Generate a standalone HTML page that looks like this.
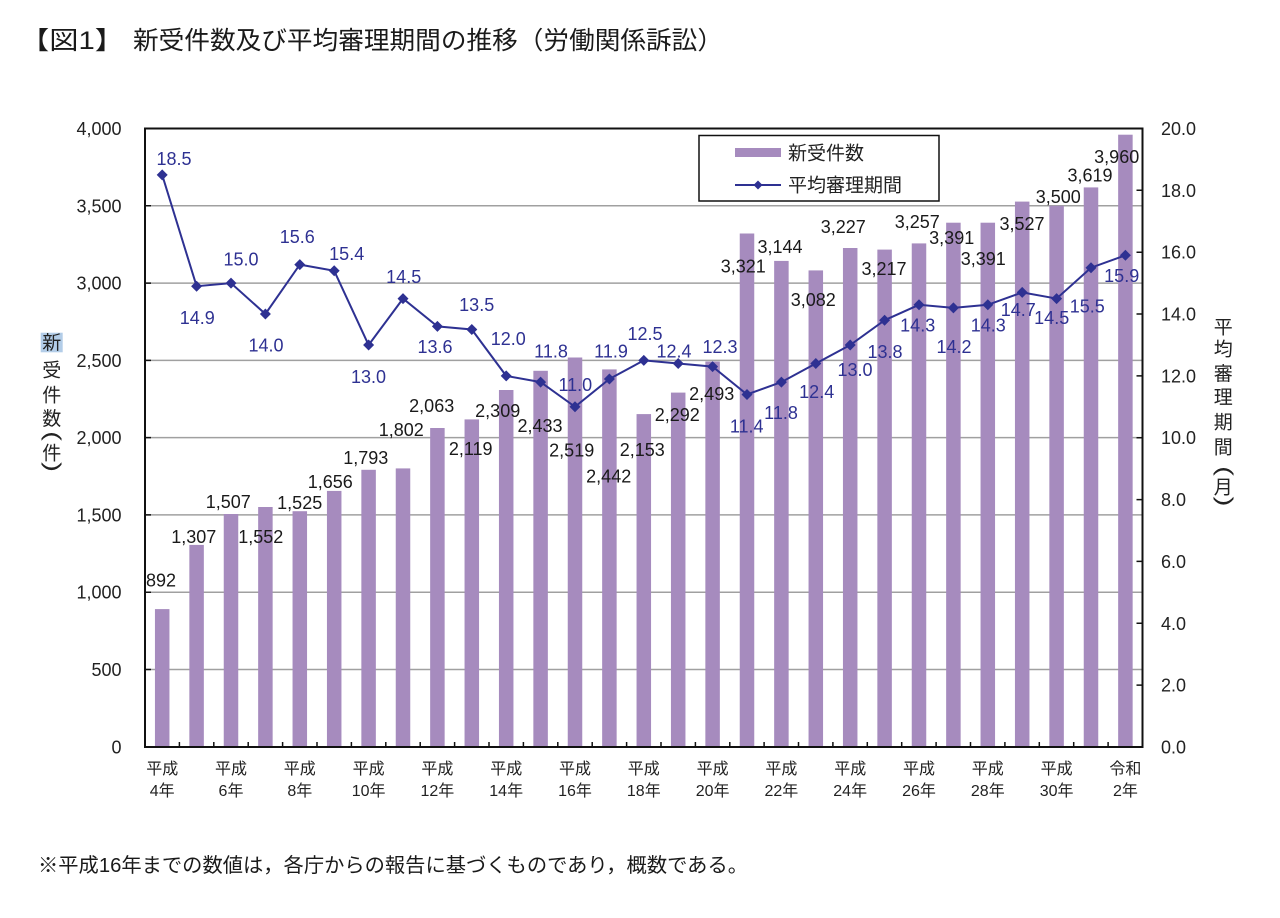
<!DOCTYPE html>
<html><head><meta charset="utf-8"><style>
html,body{margin:0;padding:0;background:#fff;}
svg{display:block;}
text{font-family:"Liberation Sans","Noto Sans CJK JP",sans-serif;}
.ax{font-size:18px;fill:#222;}
.bl{font-size:18px;fill:#1a1a1a;text-anchor:middle;}
.ll{font-size:18px;fill:#2e3192;text-anchor:middle;}
.xl{font-size:16px;fill:#222;text-anchor:middle;}
.vt{font-size:19px;fill:#222;text-anchor:middle;}
.vp{font-size:21px;fill:#222;text-anchor:middle;font-family:"Liberation Sans",sans-serif;}
</style></head><body>
<svg width="1280" height="918" viewBox="0 0 1280 918" xmlns="http://www.w3.org/2000/svg">
<rect width="1280" height="918" fill="#fff"/>
<!-- title -->
<text x="20" y="49" font-size="25" fill="#1a1a1a" textLength="104" lengthAdjust="spacingAndGlyphs">【図1】</text>
<text x="133" y="49" font-size="25" fill="#1a1a1a" textLength="590" lengthAdjust="spacingAndGlyphs">新受件数及び平均審理期間の推移（労働関係訴訟）</text>

<!-- gridlines -->
<g stroke="#a0a0a0" stroke-width="1.5">
<line x1="145" y1="205.8" x2="1142.5" y2="205.8"/>
<line x1="145" y1="283.1" x2="1142.5" y2="283.1"/>
<line x1="145" y1="360.4" x2="1142.5" y2="360.4"/>
<line x1="145" y1="437.6" x2="1142.5" y2="437.6"/>
<line x1="145" y1="514.9" x2="1142.5" y2="514.9"/>
<line x1="145" y1="592.2" x2="1142.5" y2="592.2"/>
<line x1="145" y1="669.5" x2="1142.5" y2="669.5"/>
</g>

<!-- bars -->
<g fill="#a68bbe">
<rect x="154.95" y="609.1" width="14.5" height="137.9"/>
<rect x="189.35" y="544.9" width="14.5" height="202.1"/>
<rect x="223.75" y="514.0" width="14.5" height="233.0"/>
<rect x="258.15" y="507.0" width="14.5" height="240.0"/>
<rect x="292.55" y="511.2" width="14.5" height="235.8"/>
<rect x="326.95" y="490.9" width="14.5" height="256.1"/>
<rect x="361.35" y="469.8" width="14.5" height="277.2"/>
<rect x="395.75" y="468.4" width="14.5" height="278.6"/>
<rect x="430.15" y="428.0" width="14.5" height="319.0"/>
<rect x="464.55" y="419.4" width="14.5" height="327.6"/>
<rect x="498.95" y="390.0" width="14.5" height="357.0"/>
<rect x="533.35" y="370.8" width="14.5" height="376.2"/>
<rect x="567.75" y="357.5" width="14.5" height="389.5"/>
<rect x="602.15" y="369.4" width="14.5" height="377.6"/>
<rect x="636.55" y="414.1" width="14.5" height="332.9"/>
<rect x="670.95" y="392.6" width="14.5" height="354.4"/>
<rect x="705.35" y="361.5" width="14.5" height="385.5"/>
<rect x="739.75" y="233.5" width="14.5" height="513.5"/>
<rect x="774.15" y="260.9" width="14.5" height="486.1"/>
<rect x="808.55" y="270.4" width="14.5" height="476.6"/>
<rect x="842.95" y="248.0" width="14.5" height="499.0"/>
<rect x="877.35" y="249.6" width="14.5" height="497.4"/>
<rect x="911.75" y="243.4" width="14.5" height="503.6"/>
<rect x="946.15" y="222.7" width="14.5" height="524.3"/>
<rect x="980.55" y="222.7" width="14.5" height="524.3"/>
<rect x="1014.95" y="201.6" width="14.5" height="545.4"/>
<rect x="1049.35" y="205.8" width="14.5" height="541.2"/>
<rect x="1083.75" y="187.4" width="14.5" height="559.6"/>
<rect x="1118.15" y="134.7" width="14.5" height="612.3"/>
</g>

<!-- frame -->
<rect x="145" y="128.5" width="997.5" height="618.5" fill="none" stroke="#111" stroke-width="2"/>

<!-- ticks -->
<g stroke="#111" stroke-width="1.5">
<path d="M145 205.8h6M145 283.1h6M145 360.4h6M145 437.6h6M145 514.9h6M145 592.2h6M145 669.5h6"/>
<path d="M1142.5 190.3h-6M1142.5 252.2h-6M1142.5 314h-6M1142.5 375.9h-6M1142.5 437.7h-6M1142.5 499.6h-6M1142.5 561.4h-6M1142.5 623.3h-6M1142.5 685.1h-6"/>
<path d="M179.4 747v-5M213.8 747v-5M248.2 747v-5M282.6 747v-5M317 747v-5M351.4 747v-5M385.8 747v-5M420.2 747v-5M454.6 747v-5M489 747v-5M523.4 747v-5M557.8 747v-5M592.2 747v-5M626.6 747v-5M661 747v-5M695.4 747v-5M729.8 747v-5M764.1 747v-5M798.5 747v-5M832.9 747v-5M867.3 747v-5M901.7 747v-5M936.1 747v-5M970.5 747v-5M1004.9 747v-5M1039.3 747v-5M1073.7 747v-5M1108.1 747v-5"/>
</g>

<!-- left axis labels -->
<g class="ax" text-anchor="end">
<text x="121.5" y="135">4,000</text>
<text x="121.5" y="212.3">3,500</text>
<text x="121.5" y="289.6">3,000</text>
<text x="121.5" y="366.9">2,500</text>
<text x="121.5" y="444.1">2,000</text>
<text x="121.5" y="521.4">1,500</text>
<text x="121.5" y="598.7">1,000</text>
<text x="121.5" y="676">500</text>
<text x="121.5" y="753.5">0</text>
</g>
<!-- right axis labels -->
<g class="ax">
<text x="1161" y="135">20.0</text>
<text x="1161" y="196.8">18.0</text>
<text x="1161" y="258.7">16.0</text>
<text x="1161" y="320.5">14.0</text>
<text x="1161" y="382.4">12.0</text>
<text x="1161" y="444.2">10.0</text>
<text x="1161" y="506.1">8.0</text>
<text x="1161" y="567.9">6.0</text>
<text x="1161" y="629.8">4.0</text>
<text x="1161" y="691.6">2.0</text>
<text x="1161" y="753.5">0.0</text>
</g>

<!-- left title -->
<rect x="40.7" y="332.7" width="22" height="19.6" fill="#b3cde8"/>
<g class="vt">
<text x="51.7" y="349">新</text>
<text x="51.7" y="376.7">受</text>
<text x="51.7" y="401.7">件</text>
<text x="51.7" y="425">数</text>
<text x="51.7" y="459.4">件</text>
</g>
<text class="vp" transform="translate(51.7 436) rotate(90) scale(1.4 1)" x="0" y="5.5">(</text>
<text class="vp" transform="translate(51.7 467) rotate(90) scale(1.4 1)" x="0" y="5.5">)</text>
<!-- right title -->
<g class="vt">
<text x="1223.3" y="333.4">平</text>
<text x="1223.3" y="355.7">均</text>
<text x="1223.3" y="380">審</text>
<text x="1223.3" y="403.4">理</text>
<text x="1223.3" y="428.4">期</text>
<text x="1223.3" y="453.4">間</text>
<text x="1223.3" y="493.4">月</text>
</g>
<text class="vp" transform="translate(1223.3 471) rotate(90) scale(1.4 1)" x="0" y="5.5">(</text>
<text class="vp" transform="translate(1223.3 501.5) rotate(90) scale(1.4 1)" x="0" y="5.5">)</text>

<!-- line -->
<polyline fill="none" stroke="#2e3192" stroke-width="2" points="162.2,174.9 196.6,286.2 231.0,283.1 265.4,314.0 299.8,264.6 334.2,270.8 368.6,345.0 403.0,298.6 437.4,326.4 471.8,329.5 506.2,375.9 540.6,382.1 575.0,406.8 609.4,379.0 643.8,360.4 678.2,363.5 712.6,366.6 747.0,394.5 781.4,382.1 815.8,363.5 850.2,345.0 884.6,320.2 919.0,304.8 953.4,307.9 987.8,304.8 1022.2,292.4 1056.6,298.6 1091.0,267.7 1125.4,255.3"/>
<path fill="#2e3192" d="M162.2 169.4l5.5 5.5l-5.5 5.5l-5.5-5.5z M196.6 280.7l5.5 5.5l-5.5 5.5l-5.5-5.5z M231.0 277.6l5.5 5.5l-5.5 5.5l-5.5-5.5z M265.4 308.5l5.5 5.5l-5.5 5.5l-5.5-5.5z M299.8 259.1l5.5 5.5l-5.5 5.5l-5.5-5.5z M334.2 265.3l5.5 5.5l-5.5 5.5l-5.5-5.5z M368.6 339.5l5.5 5.5l-5.5 5.5l-5.5-5.5z M403.0 293.1l5.5 5.5l-5.5 5.5l-5.5-5.5z M437.4 320.9l5.5 5.5l-5.5 5.5l-5.5-5.5z M471.8 324.0l5.5 5.5l-5.5 5.5l-5.5-5.5z M506.2 370.4l5.5 5.5l-5.5 5.5l-5.5-5.5z M540.6 376.6l5.5 5.5l-5.5 5.5l-5.5-5.5z M575.0 401.3l5.5 5.5l-5.5 5.5l-5.5-5.5z M609.4 373.5l5.5 5.5l-5.5 5.5l-5.5-5.5z M643.8 354.9l5.5 5.5l-5.5 5.5l-5.5-5.5z M678.2 358.0l5.5 5.5l-5.5 5.5l-5.5-5.5z M712.6 361.1l5.5 5.5l-5.5 5.5l-5.5-5.5z M747.0 389.0l5.5 5.5l-5.5 5.5l-5.5-5.5z M781.4 376.6l5.5 5.5l-5.5 5.5l-5.5-5.5z M815.8 358.0l5.5 5.5l-5.5 5.5l-5.5-5.5z M850.2 339.5l5.5 5.5l-5.5 5.5l-5.5-5.5z M884.6 314.7l5.5 5.5l-5.5 5.5l-5.5-5.5z M919.0 299.3l5.5 5.5l-5.5 5.5l-5.5-5.5z M953.4 302.4l5.5 5.5l-5.5 5.5l-5.5-5.5z M987.8 299.3l5.5 5.5l-5.5 5.5l-5.5-5.5z M1022.2 286.9l5.5 5.5l-5.5 5.5l-5.5-5.5z M1056.6 293.1l5.5 5.5l-5.5 5.5l-5.5-5.5z M1091.0 262.2l5.5 5.5l-5.5 5.5l-5.5-5.5z M1125.4 249.8l5.5 5.5l-5.5 5.5l-5.5-5.5z"/>

<!-- bar labels -->
<g class="bl">
<text x="161" y="586.5">892</text>
<text x="193.8" y="543.2">1,307</text>
<text x="228.3" y="508.2">1,507</text>
<text x="260.8" y="543.2">1,552</text>
<text x="299.7" y="509.2">1,525</text>
<text x="330.3" y="488.2">1,656</text>
<text x="365.8" y="464.2">1,793</text>
<text x="401.3" y="435.8">1,802</text>
<text x="431.7" y="412.2">2,063</text>
<text x="470.7" y="454.8">2,119</text>
<text x="497.7" y="417.2">2,309</text>
<text x="540" y="432.2">2,433</text>
<text x="571.7" y="456.5">2,519</text>
<text x="608.7" y="482.5">2,442</text>
<text x="642.3" y="455.8">2,153</text>
<text x="677.3" y="420.8">2,292</text>
<text x="711.7" y="399.8">2,493</text>
<text x="743.3" y="272.5">3,321</text>
<text x="780" y="253.2">3,144</text>
<text x="813.3" y="305.8">3,082</text>
<text x="843.3" y="233.2">3,227</text>
<text x="884" y="274.8">3,217</text>
<text x="917.3" y="228.2">3,257</text>
<text x="951.7" y="243.8">3,391</text>
<text x="983.3" y="264.8">3,391</text>
<text x="1022" y="229.8">3,527</text>
<text x="1058.3" y="203.2">3,500</text>
<text x="1090" y="181.5">3,619</text>
<text x="1116.7" y="163.2">3,960</text>
</g>

<!-- line labels -->
<g class="ll">
<text x="174" y="164.8">18.5</text>
<text x="197.3" y="323.8">14.9</text>
<text x="241" y="265.5">15.0</text>
<text x="266" y="351.5">14.0</text>
<text x="297.3" y="243.2">15.6</text>
<text x="346.7" y="259.8">15.4</text>
<text x="368.5" y="383.2">13.0</text>
<text x="403.7" y="283.2">14.5</text>
<text x="435" y="353.2">13.6</text>
<text x="476.7" y="310.8">13.5</text>
<text x="508.3" y="344.8">12.0</text>
<text x="551" y="357.5">11.8</text>
<text x="575.3" y="390.8">11.0</text>
<text x="611" y="357.5">11.9</text>
<text x="645" y="339.8">12.5</text>
<text x="674" y="357.5">12.4</text>
<text x="720" y="353">12.3</text>
<text x="746.7" y="432.5">11.4</text>
<text x="781" y="419.2">11.8</text>
<text x="816.7" y="398.2">12.4</text>
<text x="855" y="375.8">13.0</text>
<text x="885" y="358.2">13.8</text>
<text x="917.7" y="331.5">14.3</text>
<text x="954" y="353.2">14.2</text>
<text x="988.3" y="331.5">14.3</text>
<text x="1018.3" y="315.8">14.7</text>
<text x="1051.7" y="323.8">14.5</text>
<text x="1087.3" y="312.5">15.5</text>
<text x="1121.7" y="282.2">15.9</text>
</g>

<!-- legend -->
<rect x="699" y="135.5" width="240" height="65.5" fill="#fff" stroke="#111" stroke-width="1.5"/>
<rect x="735" y="148" width="46" height="9" fill="#a68bbe"/>
<text x="788" y="159.5" font-size="19" fill="#222">新受件数</text>
<line x1="735" y1="185" x2="781" y2="185" stroke="#2e3192" stroke-width="2"/>
<path fill="#2e3192" d="M758 180.5l4.5 4.5l-4.5 4.5l-4.5-4.5z"/>
<text x="788" y="191.5" font-size="19" fill="#222">平均審理期間</text>

<!-- x labels -->
<g class="xl">
<text x="162.2" y="774">平成</text><text x="162.2" y="796">4年</text>
<text x="231.0" y="774">平成</text><text x="231.0" y="796">6年</text>
<text x="299.8" y="774">平成</text><text x="299.8" y="796">8年</text>
<text x="368.6" y="774">平成</text><text x="368.6" y="796">10年</text>
<text x="437.4" y="774">平成</text><text x="437.4" y="796">12年</text>
<text x="506.2" y="774">平成</text><text x="506.2" y="796">14年</text>
<text x="575.0" y="774">平成</text><text x="575.0" y="796">16年</text>
<text x="643.8" y="774">平成</text><text x="643.8" y="796">18年</text>
<text x="712.6" y="774">平成</text><text x="712.6" y="796">20年</text>
<text x="781.4" y="774">平成</text><text x="781.4" y="796">22年</text>
<text x="850.2" y="774">平成</text><text x="850.2" y="796">24年</text>
<text x="919.0" y="774">平成</text><text x="919.0" y="796">26年</text>
<text x="987.8" y="774">平成</text><text x="987.8" y="796">28年</text>
<text x="1056.6" y="774">平成</text><text x="1056.6" y="796">30年</text>
<text x="1125.4" y="774">令和</text><text x="1125.4" y="796">2年</text>
</g>

<!-- footnote -->
<text x="38" y="872" font-size="20" fill="#1a1a1a" textLength="710" lengthAdjust="spacingAndGlyphs">※平成16年までの数値は，各庁からの報告に基づくものであり，概数である。</text>
</svg>
</body></html>
